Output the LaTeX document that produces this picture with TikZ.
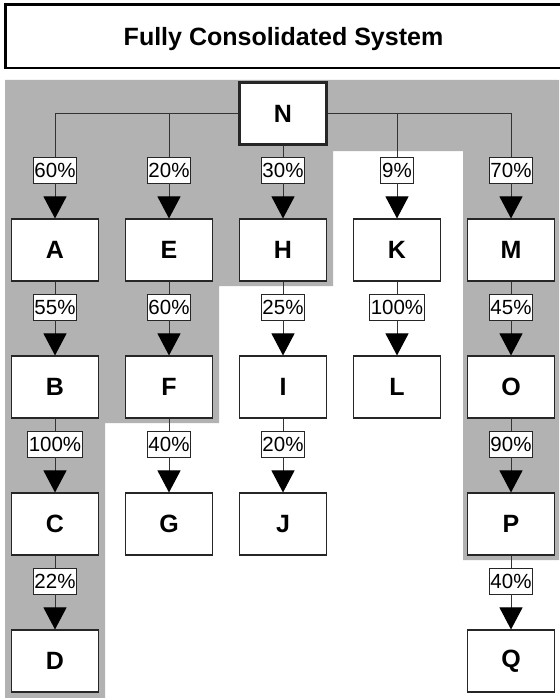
\documentclass[tikz,border=0pt]{standalone}
\usepackage{fontspec}
\setmainfont{Liberation Sans}
\usetikzlibrary{arrows.meta,positioning}
\tikzset{
  unit/.style={draw=black!85,line width=1.1pt,fill=white,minimum width=87pt,minimum height=62pt,
    font=\fontsize{25}{30}\selectfont\bfseries},
  share/.style={draw=black!85,line width=.9pt,fill=white,inner xsep=1.3pt,inner ysep=0pt,
    minimum height=26pt,font=\fontsize{20.5}{24}\selectfont},
  link/.style={draw=black!80,line width=1pt},
  own/.style={link,-{Triangle[length=22pt,width=23pt,color=black]}},
}
\begin{document}
\begin{tikzpicture}[x=1pt,y=-1pt]
\useasboundingbox (0,0) rectangle (559,698);
% consolidated area
\fill[black!30] (5,80)--(559,80)--(559,560)--(463,560)--(463,151)--(333,151)--(333,286)
  --(219,286)--(219,423)--(105,423)--(105,698)--(5,698)--cycle;
\node[draw,line width=2.5pt,minimum width=556pt,minimum height=63.5pt,text depth=0pt,
  font=\fontsize{25}{30}\selectfont\bfseries] (title) at (283.5,36.25) {Fully Consolidated System};
\node[unit,line width=2.5pt] (N) at (283,113.5) {N};
\foreach \n/\x/\y in {A/55/250,B/55/387,C/55/524,D/55/661,E/169/250,F/169/387,G/169/524,
  H/283/250,I/283/387,J/283/524,K/397/250,L/397/387,M/511/250,O/511/387,P/511/524,Q/511/661}
  \node[unit] (\n) at (\x,\y) {\n};
% first level
\foreach \b/\p in {A/60,E/20,H/30,K/9,M/70}{
  \node[share,above=35pt of \b] (s\b) {\p\%};
  \draw[own] (s\b) -- (\b);}
\draw[link] (N.west) -| (sA); \draw[link] (N.west) -| (sE); \draw[link] (N) -- (sH);
\draw[link] (N.east) -| (sK); \draw[link] (N.east) -| (sM);
% lower levels
\foreach \a/\b/\p in {A/B/55,B/C/100,C/D/22,E/F/60,F/G/40,H/I/25,I/J/20,K/L/100,M/O/45,O/P/90,P/Q/40}{
  \node[share,above=35pt of \b] (s\b) {\p\%};
  \draw[link] (\a) -- (s\b); \draw[own] (s\b) -- (\b);}
\end{tikzpicture}
\end{document}
